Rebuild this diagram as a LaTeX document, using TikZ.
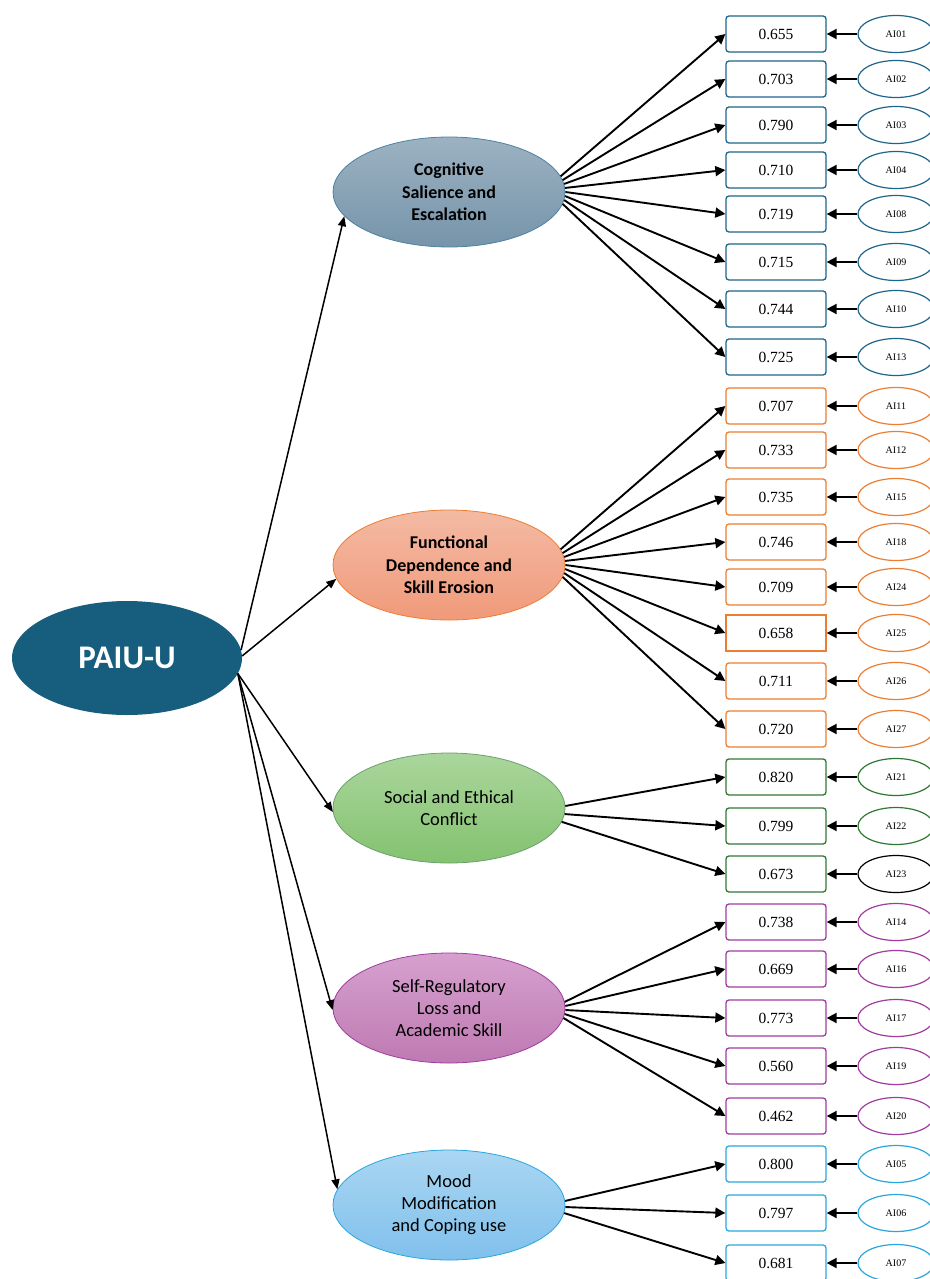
\documentclass[tikz,border=0pt]{standalone}
\usepackage{fontspec}
\setmainfont{Liberation Serif}
\newfontfamily\calfont{Carlito}
\usetikzlibrary{arrows.meta,shapes.geometric}
\definecolor{mainc}{RGB}{23,94,126}
\definecolor{cB}{RGB}{31,100,138}
\definecolor{cO}{RGB}{237,125,49}
\definecolor{cG}{RGB}{46,120,50}
\definecolor{cP}{RGB}{160,60,160}
\definecolor{cL}{RGB}{40,166,222}
\tikzset{
  fac/.style={ellipse, minimum width=232pt, minimum height=110pt, inner sep=0pt,
    align=center, font=\calfont\fontsize{18.5}{22}\selectfont, line width=0.8pt},
  facb/.style={fac, font=\calfont\bfseries\fontsize{18}{22.5}\selectfont},
  obs/.style={draw, rounded corners=3pt, minimum width=100pt, minimum height=36pt,
    inner sep=0pt, line width=1.3pt, font=\fontsize{15.5}{18}\selectfont},
  err/.style={draw, ellipse, minimum width=76pt, minimum height=37pt, inner sep=0pt,
    line width=1.2pt, font=\fontsize{10}{10}\selectfont},
  arrS/.style={-{Triangle[length=10pt,width=10pt]}, line width=1.9pt},
  arrM/.style={-{Triangle[length=10pt,width=8pt]}, line width=1.5pt},
}
\begin{document}
\begin{tikzpicture}[x=1pt,y=-1pt]
\useasboundingbox (0,0) rectangle (929,1279);
% main
\node[ellipse, fill=mainc, minimum width=230pt, minimum height=114pt, inner sep=0pt,
  text=white, font=\calfont\bfseries\fontsize{33}{36}\selectfont] (main) at (127,658) {PAIU-U};
% factors
\node[facb, draw=cB!80!white, top color={rgb,255:red,156;green,178;blue,194}, bottom color={rgb,255:red,118;green,148;blue,170}] (cog) at (449,192) {Cognitive\\Salience and\\Escalation};
\node[facb, draw=cO, top color={rgb,255:red,244;green,186;blue,164}, bottom color={rgb,255:red,240;green,154;blue,122}] (fun) at (449,565) {Functional\\Dependence and\\Skill Erosion};
\node[fac, draw=cG!70!white, top color={rgb,255:red,170;green,214;blue,156}, bottom color={rgb,255:red,132;green,194;blue,112}] (soc) at (449,808) {Social and Ethical\\Conflict};
\node[fac, draw=cP, top color={rgb,255:red,214;green,160;blue,206}, bottom color={rgb,255:red,190;green,122;blue,178}] (slf) at (449,1008) {Self-Regulatory\\Loss and\\Academic Skill};
\node[fac, draw=cL, top color={rgb,255:red,170;green,214;blue,242}, bottom color={rgb,255:red,128;green,192;blue,236}] (moo) at (449,1205) {Mood\\Modification\\and Coping use};
% main to factors
\draw[arrM] (main.4) -- (cog.193);
\draw[arrM] (main.1) -- (fun.187);
\draw[arrM] (main.-8) -- (soc.182);
\draw[arrM] (main.-8) -- (slf.181);
\draw[arrM] (main.-8) -- (moo.172);
% cognitive
\foreach \v/\a/\y/\g in {0.655/AI01/34/8, 0.703/AI02/79/6, 0.790/AI03/125/4, 0.710/AI04/170/2, 0.719/AI08/214/0, 0.715/AI09/262/-2, 0.744/AI10/309/-4, 0.725/AI13/357/-6}{
  \node[obs, draw=cB] (b\a) at (776,\y) {\v};
  \node[err, draw=cB] (e\a) at (896,\y) {\a};
  \draw[arrS] (e\a) -- (b\a);
  \draw[arrS] (cog.\g) -- (b\a.west);
}
% functional
\foreach \v/\a/\y/\g/\sh in {0.707/AI11/406/8/3pt, 0.733/AI12/450/6/3pt, 0.735/AI15/497/4/3pt, 0.746/AI18/542/2/3pt, 0.709/AI24/587/0/3pt, 0.658/AI25/633/-2/0pt, 0.711/AI26/681/-4/3pt, 0.720/AI27/729/-6/3pt}{
  \node[obs, draw=cO, rounded corners=\sh] (b\a) at (776,\y) {\v};
  \node[err, draw=cO] (e\a) at (896,\y) {\a};
  \draw[arrS] (e\a) -- (b\a);
  \draw[arrS] (fun.\g) -- (b\a.west);
}
% social
\foreach \v/\a/\y/\g/\ec in {0.820/AI21/777/1/cG, 0.799/AI22/826/-3/cG, 0.673/AI23/874/-7/black}{
  \node[obs, draw=cG] (b\a) at (776,\y) {\v};
  \node[err, draw=\ec] (e\a) at (896,\y) {\a};
  \draw[arrS] (e\a) -- (b\a);
  \draw[arrS] (soc.\g) -- (b\a.west);
}
% self-regulatory
\foreach \v/\a/\y/\g in {0.738/AI14/922/3, 0.669/AI16/969/1, 0.773/AI17/1018/-1, 0.560/AI19/1066/-3, 0.462/AI20/1116/-5}{
  \node[obs, draw=cP] (b\a) at (776,\y) {\v};
  \node[err, draw=cP] (e\a) at (896,\y) {\a};
  \draw[arrS] (e\a) -- (b\a);
  \draw[arrS] (slf.\g) -- (b\a.west);
}
% mood
\foreach \v/\a/\y/\g in {0.800/AI05/1164/2, 0.797/AI06/1213/-1, 0.681/AI07/1263/-4}{
  \node[obs, draw=cL] (b\a) at (776,\y) {\v};
  \node[err, draw=cL] (e\a) at (896,\y) {\a};
  \draw[arrS] (e\a) -- (b\a);
  \draw[arrS] (moo.\g) -- (b\a.west);
}
\end{tikzpicture}
\end{document}
